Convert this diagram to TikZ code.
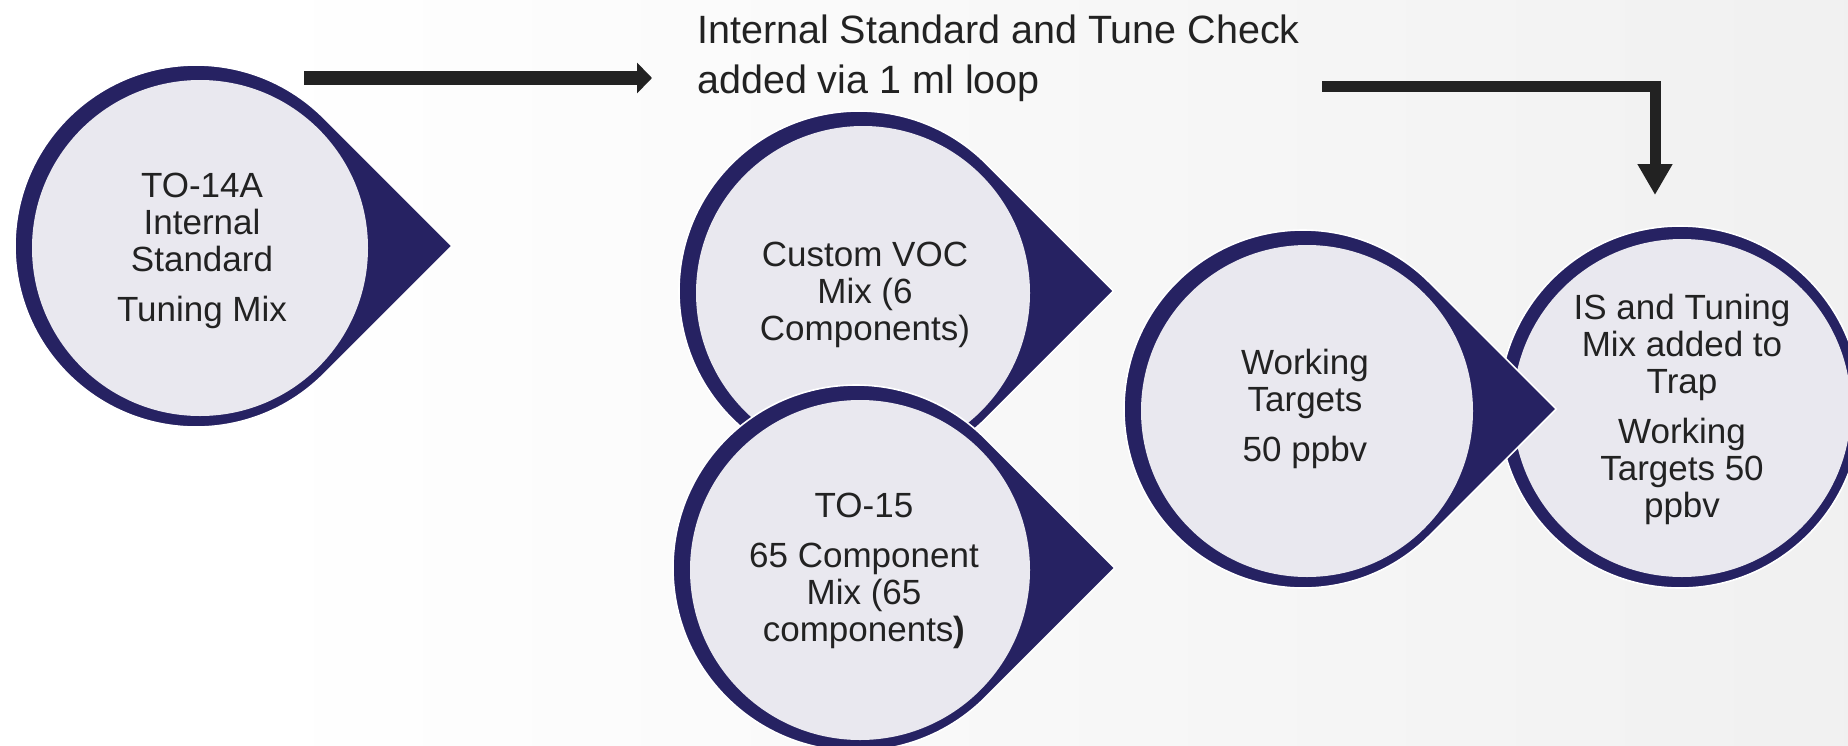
\documentclass[tikz,border=0pt]{standalone}
\usepackage{fontspec}
\setmainfont{Liberation Sans}
\usetikzlibrary{arrows.meta}

\definecolor{ringnavy}{HTML}{262262}
\definecolor{discfill}{HTML}{E9E8EF}
\definecolor{inkgray}{HTML}{222222}
\definecolor{bgright}{HTML}{E8E8E8}

% backdrop: white on the left, fading to light grey on the right
\pgfdeclarehorizontalshading{backfade}{100bp}{%
  color(0bp)=(white); color(32bp)=(white); color(100bp)=(bgright)}

\tikzset{
  drop/.style={fill=ringnavy, draw=white, line width=1.6pt},
  disc/.style={fill=discfill},
  label/.style={text=inkgray, align=center, inner sep=0pt,
                font=\fontsize{35}{37}\selectfont},
  note/.style={text=inkgray, align=left, inner sep=0pt,
               font=\fontsize{39.5}{50}\selectfont},
  flow/.style={draw=inkgray, line width=14pt,
               -{Triangle[width=30pt,length=15pt]}},
  elbow/.style={draw=inkgray, line width=11pt, line join=miter,
                -{Triangle[width=33pt,length=31pt]}},
}

% droplet: navy circle with a right-pointing corner, light disc inside
% #1,#2 = centre, #3 = radius
\newcommand\tdrop[3]{%
  \path[drop] (#1,#2) ++(45:#3) arc[start angle=45,end angle=315,radius=#3]
        -- ({#1+1.41421*#3},#2) -- cycle;
  \fill[disc] ({#1+4},{#2+2}) circle[radius={#3-13}];
}

\begin{document}
\begin{tikzpicture}[x=1pt,y=-1pt]
  \useasboundingbox (0,0) rectangle (1848,745);
  \clip (0,0) rectangle (1848,745);

  \shade[shading=backfade] (0,0) rectangle (1848,745);

  % shapes
  \tdrop{196}{246}{181}
  \tdrop{859}{291}{180}
  \tdrop{856}{568}{183}
  \path[drop] (1680,407) circle[radius=181];
  \fill[disc] (1682,408) circle[radius=169];
  \tdrop{1303}{409}{179}

  % labels
  \node[label] (tuning) at (202,251) {TO-14A\\Internal\\Standard\\[13pt]Tuning Mix};
  \node[label] (voc) at (865,295) {Custom VOC\\Mix (6\\Components)};
  \node[label] (to15) at (864,571) {TO-15\\[13pt]65 Component\\Mix (65\\components\textbf{)}};
  \node[label] (work) at (1305,409) {Working\\Targets\\[13pt]50 ppbv};
  \node[label] (trap) at (1682,409) {IS and Tuning\\Mix added to\\Trap\\[13pt]Working\\Targets 50\\ppbv};

  \node[note, anchor=north west] (istd) at (697,15)
    {Internal Standard and Tune Check\\added via 1 ml loop};

  % arrows
  \coordinate (a1s) at (304,78);
  \coordinate (a1e) at (652,78);
  \draw[flow] (a1s) -- (a1e);

  \coordinate (a2s) at (1322,86);
  \coordinate (a2e) at (1655,195);
  \draw[elbow] (a2s) -| (a2e);
\end{tikzpicture}
\end{document}
